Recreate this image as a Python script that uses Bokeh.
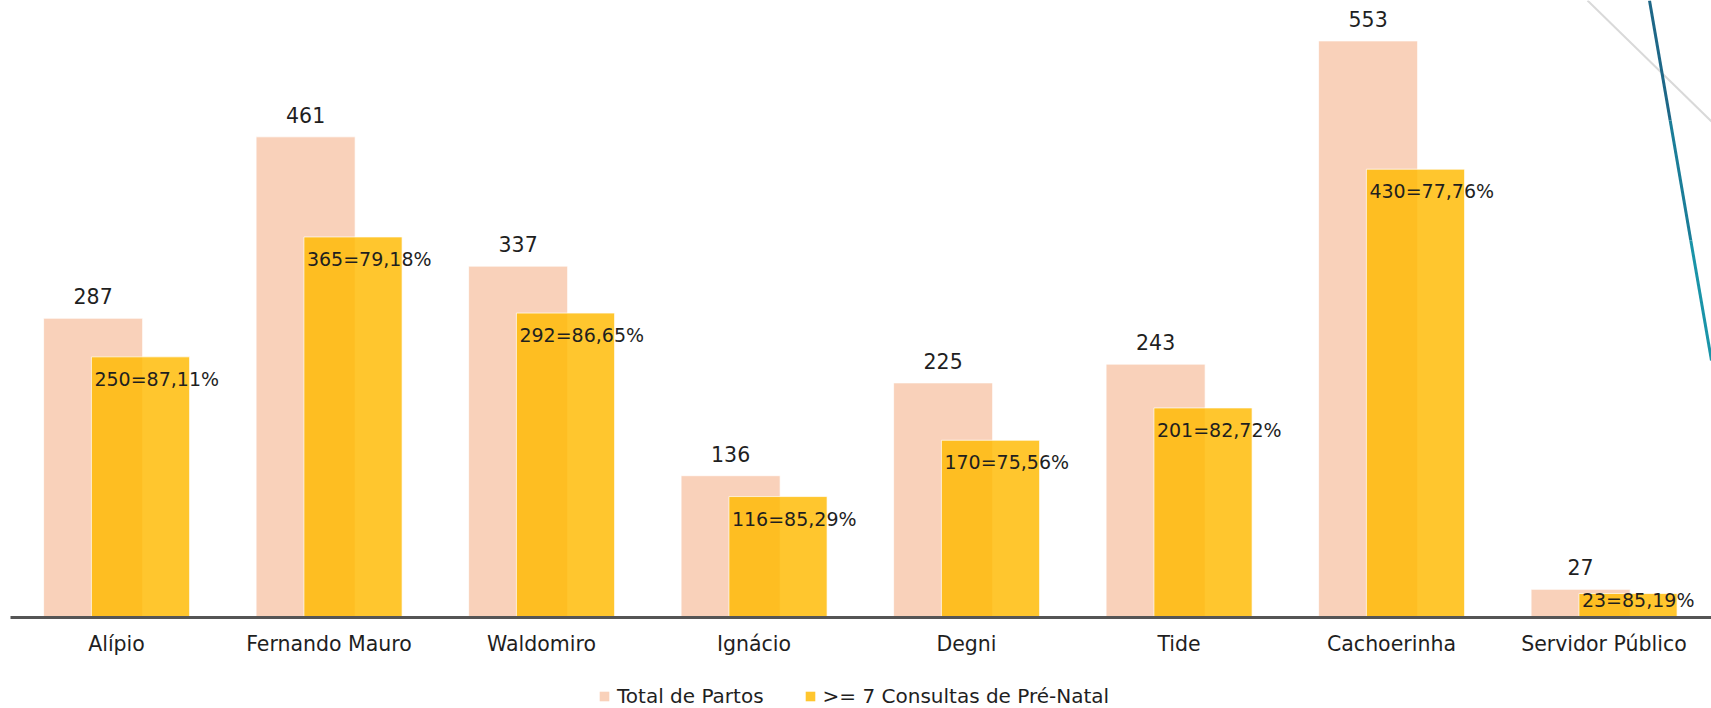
from bokeh.plotting import figure
from bokeh.layouts import column
from bokeh.models import (ColumnDataSource, Range1d, Legend, LegendItem, FixedTicker)
from bokeh.core.properties import value
from bokeh.embed import file_html
from bokeh.resources import INLINE
import numpy as np

# ---- data ----
categories = ["Alípio", "Fernando Mauro", "Waldomiro", "Ignácio", "Degni",
              "Tide", "Cachoerinha", "Servidor Público"]
total_partos = [287, 461, 337, 136, 225, 243, 553, 27]
consultas_7 = [250, 365, 292, 116, 170, 201, 430, 23]
percentuais = ["87,11%", "79,18%", "86,65%", "85,29%", "75,56%", "82,72%", "77,76%", "85,19%"]
series_names = ["Total de Partos", ">= 7 Consultas de Pré-Natal"]

# decorative slide strokes (page pixel space)
deco_gray_x = [1587, 1711]
deco_gray_y = [0, 121]
deco_teal_x0 = [1649, 1669.7, 1690.3]
deco_teal_y0 = [0, 120, 240]
deco_teal_x1 = [1669.7, 1690.3, 1711]
deco_teal_y1 = [120, 240, 360]
deco_teal_colors = ["#1E6787", "#1B7D98", "#1A94A8"]

PINK = "#F9D1BA"
GOLD = "#FFBA00"
GOLD_ALPHA = 0.82

# category slots: one unit per category, centred at i + 0.5
centers = np.arange(len(categories)) + 0.5
PINK_OFF, PINK_W = -0.11, 0.466
YEL_OFF, YEL_W = 0.113, 0.462

src = ColumnDataSource(dict(
    xp=centers + PINK_OFF,
    xy=centers + YEL_OFF,
    xyl=centers + YEL_OFF - YEL_W / 2,
    total=total_partos,
    cons=consultas_7,
    total_lbl=[str(v) for v in total_partos],
    cons_lbl=[f"{c}={p}" for c, p in zip(consultas_7, percentuais)],
    cons_lbl_y=list(np.maximum(np.array(consultas_7), 38)),
))

FONT = value("DejaVu Sans")
TXT = "#1F1F1F"

W, H_MAIN, H_LEG = 1711, 680, 28
FRAME_L, FRAME_B = 10, 617

p = figure(
    x_range=Range1d(0.0012, 8.006),
    y_range=Range1d(0, 591.8),
    width=W, height=H_MAIN,
    output_backend="svg", toolbar_location=None,
    y_axis_location=None,
    min_border_left=FRAME_L, min_border_right=0, min_border_top=0,
    min_border_bottom=H_MAIN - FRAME_B,
    outline_line_color=None,
)
p.extra_x_ranges = {"px": Range1d(FRAME_L, W)}
p.extra_y_ranges = {"py": Range1d(FRAME_B, 0)}
p.grid.visible = False

r_total = p.vbar(x="xp", top="total", width=PINK_W, source=src,
                 fill_color=PINK, line_color="white", line_alpha=0.7, line_width=1)
r_cons = p.vbar(x="xy", top="cons", width=YEL_W, source=src,
                fill_color=GOLD, fill_alpha=GOLD_ALPHA, line_color="white",
                line_alpha=0.7, line_width=1)

p.text(x="xp", y="total", text="total_lbl", source=src,
       text_align="center", text_baseline="alphabetic", y_offset=-22,
       text_font=FONT, text_font_size="20.5px", text_color=TXT)
p.text(x="xyl", y="cons_lbl_y", text="cons_lbl", source=src,
       text_align="left", text_baseline="middle", x_offset=3, y_offset=22,
       text_font=FONT, text_font_size="19px", text_color=TXT)

# decorations
p.line(x=deco_gray_x, y=deco_gray_y, line_color="#D9D9D9", line_width=2,
       x_range_name="px", y_range_name="py")
p.segment(x0=deco_teal_x0, y0=deco_teal_y0, x1=deco_teal_x1, y1=deco_teal_y1,
          line_color=deco_teal_colors, line_width=3,
          x_range_name="px", y_range_name="py")

ax = p.xaxis[0]
ax.ticker = FixedTicker(ticks=list(centers))
ax.major_label_overrides = {float(c): name for c, name in zip(centers, categories)}
ax.axis_line_width = 3
ax.axis_line_color = "#555555"
ax.major_tick_line_color = None
ax.minor_tick_line_color = None
ax.major_label_standoff = 8
ax.major_label_text_font = "DejaVu Sans"
ax.major_label_text_font_size = "20.5px"
ax.major_label_text_color = TXT

# legend strip under the chart (proxy renderers sit outside the strip's view)
pl = figure(width=W, height=H_LEG, x_range=Range1d(0, 1), y_range=Range1d(0, 1),
            output_backend="svg", toolbar_location=None,
            x_axis_location=None, y_axis_location=None,
            min_border_left=0, min_border_right=0, min_border_top=0, min_border_bottom=0,
            outline_line_color=None)
pl.grid.visible = False
lg_total = pl.vbar(x=[-5], top=[-5], bottom=[-6], width=0.1, fill_color=PINK, line_color=None)
lg_cons = pl.vbar(x=[-5], top=[-5], bottom=[-6], width=0.1, fill_color=GOLD,
                  fill_alpha=GOLD_ALPHA, line_color=None)
legend = Legend(items=[LegendItem(label=series_names[0], renderers=[lg_total]),
                       LegendItem(label=series_names[1], renderers=[lg_cons])],
                orientation="horizontal", location=(588, 0),
                glyph_width=12, glyph_height=12, label_standoff=7, spacing=40,
                label_text_font="DejaVu Sans", label_text_font_size="20px",
                label_text_color=TXT, background_fill_alpha=0, border_line_alpha=0,
                margin=0, padding=0)
pl.add_layout(legend)

layout = column(p, pl, spacing=0)
open("out.html", "w").write(file_html(layout, INLINE))
